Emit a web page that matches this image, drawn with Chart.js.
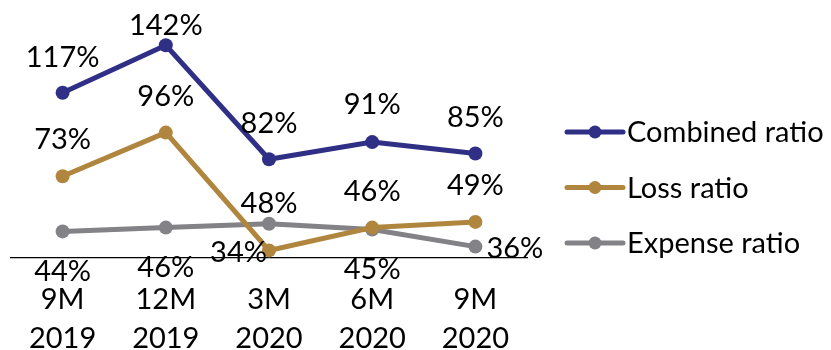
<!DOCTYPE html>
<html>
<head>
<meta charset="utf-8">
<script src="https://cdn.jsdelivr.net/npm/chart.js@4/dist/chart.umd.min.js"></script>
<style>
  html, body { margin: 0; padding: 0; background: #fff; }
  #wrap { width: 831px; height: 350px; position: relative; }
</style>
</head>
<body>
<div id="wrap"><canvas id="c"></canvas></div>
<script>
// Periods on the x axis (two-line tick labels)
const periods = [['9M', '2019'], ['12M', '2019'], ['3M', '2020'], ['6M', '2020'], ['9M', '2020']];

// Ratios in percent
const combinedRatio = [117, 142, 82, 91, 85];
const lossRatio     = [73, 96, 34, 46, 49];
const expenseRatio  = [44, 46, 48, 45, 36];

const seriesNames = ['Combined ratio', 'Loss ratio', 'Expense ratio'];

// Styling
const COLORS = ['#302f86', '#b0863f', '#828287'];
const FONT = 'Lato, "Open Sans", sans-serif';
const FONT_SIZE = 29;

// Where each value label sits relative to its point: [dx, dy, textAlign]
const labelPlacement = [
  [[0, -35, 'center'], [0, -20, 'center'], [0, -36, 'center'], [0, -37, 'center'], [0, -36, 'center']],
  [[0, -37, 'center'], [0, -36, 'center'], [-2, 2, 'right'], [0, -36, 'center'], [0, -36, 'center']],
  [[0, 40, 'center'], [0, 40, 'center'], [0, -20, 'center'], [0, 40, 'center'], [11, 2, 'left']]
];

const valueLabels = {
  id: 'valueLabels',
  afterDatasetsDraw(chart) {
    const ctx = chart.ctx;
    ctx.save();
    ctx.font = FONT_SIZE + 'px ' + FONT;
    ctx.fillStyle = '#000';
    ctx.textBaseline = 'middle';
    chart.data.datasets.forEach((ds, i) => {
      const meta = chart.getDatasetMeta(i);
      meta.data.forEach((pt, j) => {
        const [dx, dy, align] = labelPlacement[i][j];
        ctx.textAlign = align;
        ctx.fillText(ds.data[j] + '%', pt.x + dx, pt.y + dy);
      });
    });
    ctx.restore();
  }
};

// Line-and-marker legend on the right
const sideLegend = {
  id: 'sideLegend',
  afterDraw(chart) {
    const ctx = chart.ctx;
    const x0 = chart.chartArea.right + 40;
    const lineLen = 56;
    const rowTop = 132, rowGap = 55.5;
    ctx.save();
    ctx.font = FONT_SIZE + 'px ' + FONT;
    ctx.textBaseline = 'middle';
    ctx.textAlign = 'left';
    chart.data.datasets.forEach((ds, i) => {
      const y = rowTop + i * rowGap;
      ctx.strokeStyle = ds.borderColor;
      ctx.lineWidth = 5;
      ctx.lineCap = 'round';
      ctx.beginPath();
      ctx.moveTo(x0, y);
      ctx.lineTo(x0 + lineLen, y);
      ctx.stroke();
      ctx.fillStyle = ds.borderColor;
      ctx.beginPath();
      ctx.arc(x0 + lineLen / 2, y, 6.5, 0, Math.PI * 2);
      ctx.fill();
      ctx.fillStyle = '#000';
      ctx.fillText(ds.label, x0 + lineLen + 4, y + 1);
    });
    ctx.restore();
  }
};

function series(label, data, color) {
  return {
    label: label,
    data: data,
    borderColor: color,
    backgroundColor: color,
    borderWidth: 5,
    pointRadius: 7,
    pointHoverRadius: 7,
    pointBorderWidth: 0,
    tension: 0,
    clip: false
  };
}

new Chart(document.getElementById('c'), {
  type: 'line',
  data: {
    labels: periods,
    datasets: [
      series(seriesNames[0], combinedRatio, COLORS[0]),
      series(seriesNames[1], lossRatio, COLORS[1]),
      series(seriesNames[2], expenseRatio, COLORS[2])
    ]
  },
  options: {
    responsive: true,
    maintainAspectRatio: false,
    animation: false,
    devicePixelRatio: 1,
    layout: { padding: { left: 11, right: 304, top: 11, bottom: 0 } },
    plugins: {
      legend: { display: false },
      tooltip: { enabled: false },
      title: { display: false }
    },
    scales: {
      x: {
        offset: true,
        grid: { display: false, drawTicks: false },
        border: { display: true, color: '#000', width: 1.2 },
        ticks: {
          color: '#000',
          padding: 22,
          maxRotation: 0,
          autoSkip: false,
          font: { family: FONT, size: FONT_SIZE, lineHeight: 1.35 }
        },
        afterFit(scale) { scale.height = 92; }
      },
      y: {
        display: false,
        min: 30,
        max: 160
      }
    }
  },
  plugins: [valueLabels, sideLegend]
});
</script>
</body>
</html>
